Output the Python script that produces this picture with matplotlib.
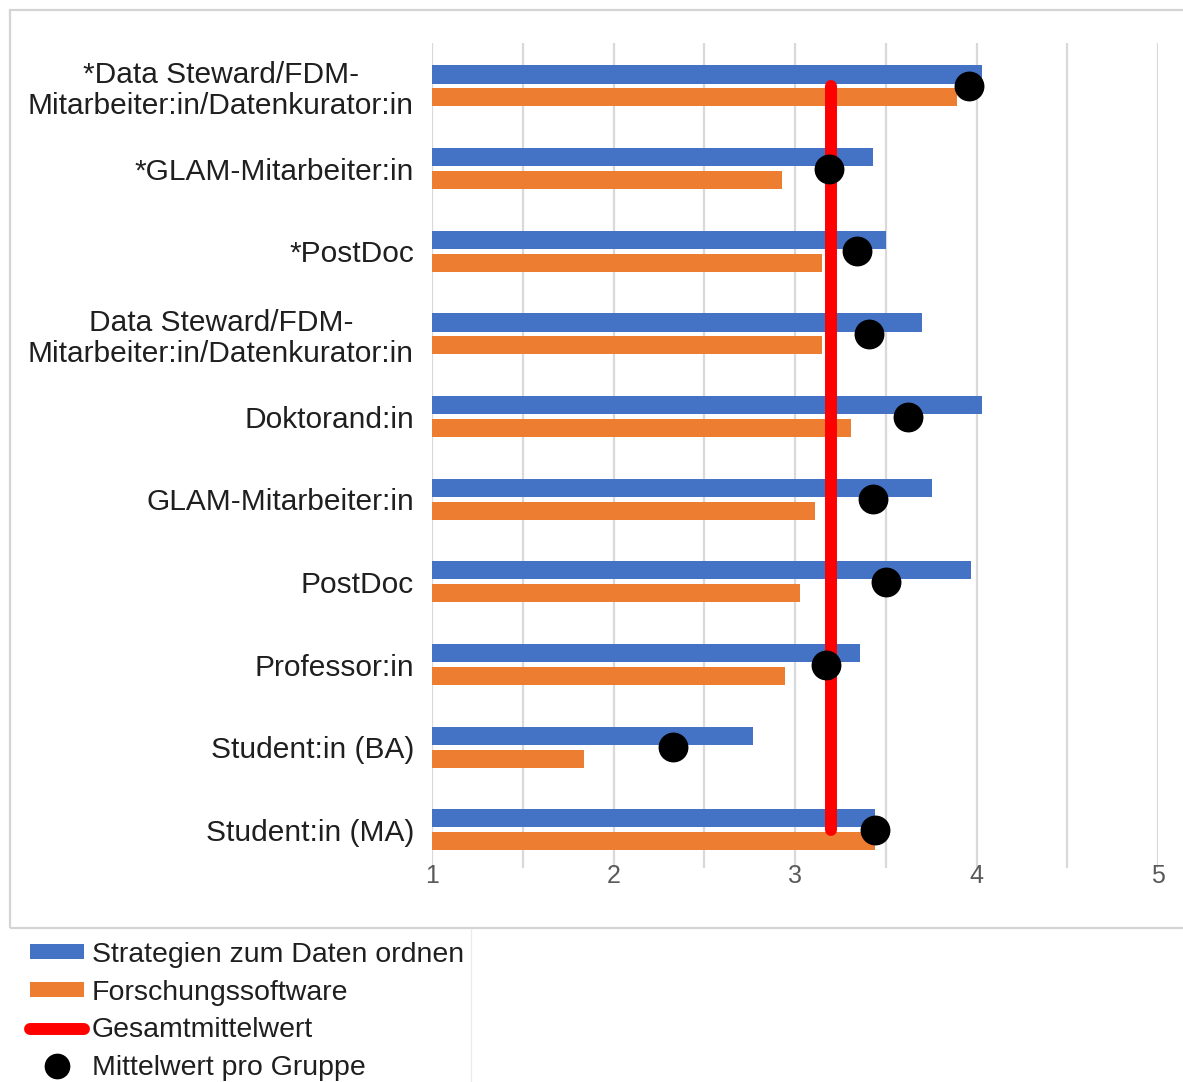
import matplotlib
matplotlib.use("Agg")
import matplotlib.pyplot as plt
from matplotlib.lines import Line2D
from matplotlib.patches import Patch, Rectangle
import numpy as np

plt.rcParams["font.family"] = ["Liberation Sans", "DejaVu Sans"]

# Groups, top to bottom
groups = [
    "*Data Steward/FDM-\nMitarbeiter:in/Datenkurator:in",
    "*GLAM-Mitarbeiter:in",
    "*PostDoc",
    "Data Steward/FDM-\nMitarbeiter:in/Datenkurator:in",
    "Doktorand:in",
    "GLAM-Mitarbeiter:in",
    "PostDoc",
    "Professor:in",
    "Student:in (BA)",
    "Student:in (MA)",
]
strategien = [4.03, 3.43, 3.50, 3.70, 4.03, 3.755, 3.97, 3.36, 2.77, 3.44]
software = [3.89, 2.93, 3.15, 3.15, 3.31, 3.11, 3.03, 2.945, 1.84, 3.44]
gruppen_mittel = [3.96, 3.19, 3.34, 3.41, 3.62, 3.43, 3.50, 3.17, 2.33, 3.44]
gesamt_mittel = 3.20

x_ticks = [1, 2, 3, 4, 5]
series_labels = ["Strategien zum Daten ordnen", "Forschungssoftware",
                 "Gesamtmittelwert", "Mittelwert pro Gruppe"]

BLUE = "#4472C4"
ORANGE = "#ED7D31"
RED = "#FF0000"
TEXT = "#1f1f1f"
GRID = "#d9d9d9"

W, H = 1183, 1082
fig = plt.figure(figsize=(W / 100, H / 100), dpi=100)
fig.patch.set_facecolor("white")

ax = fig.add_axes([432 / W, 1 - 868 / H, (1158 - 432) / W, 825 / H])

pos = np.arange(len(groups))
bar_h = 0.218
off = 0.139

ax.barh(pos - off, np.array(strategien) - 1, left=1, height=bar_h,
        color=BLUE, zorder=2)
ax.barh(pos + off, np.array(software) - 1, left=1, height=bar_h,
        color=ORANGE, zorder=2)

# overall mean as a vertical line spanning the groups
ax.plot([gesamt_mittel, gesamt_mittel], [pos[0], pos[-1]], color=RED,
        lw=8.6, solid_capstyle="round", zorder=3)

# per-group means
ax.plot(gruppen_mittel, pos, "o", color="black", markersize=20.5,
        linestyle="none", zorder=4)

# gridlines every 0.5, labels only on whole numbers
grid_vals = np.arange(1, 5.01, 0.5)
ax.set_xlim(1, 5)
ax.set_ylim(9.46, -0.52)
ax.set_xticks(grid_vals)
ax.set_xticklabels([str(int(t)) if t in x_ticks else "" for t in grid_vals])
ax.set_yticks(pos)
ax.set_yticklabels(groups, fontsize=21.5, color=TEXT, ma="center", linespacing=1.12)
ax.tick_params(axis="x", length=0, pad=-3, labelsize=18, labelcolor="#595959")
ax.tick_params(axis="y", length=0, pad=13)
ax.grid(axis="x", color=GRID, lw=1.6, zorder=0)
ax.set_axisbelow(True)
for s in ax.spines.values():
    s.set_visible(False)

# outer frame of the chart area
fig.add_artist(Rectangle((10 / W, 1 - 928 / H), (W + 20 - 10) / W, (928 - 10) / H,
                         transform=fig.transFigure, fill=False,
                         edgecolor="#d4d4d4", lw=1.6, clip_on=False))
fig.add_artist(Line2D([471 / W, 471 / W], [0, 1 - 929 / H],
                      transform=fig.transFigure, color="#ececec", lw=1))

handles = [
    Patch(facecolor=BLUE, edgecolor="none"),
    Patch(facecolor=ORANGE, edgecolor="none"),
    Line2D([], [], color=RED, lw=8.6, solid_capstyle="round"),
    Line2D([], [], marker="o", color="black", markersize=17.5, linestyle="none"),
]
fig.legend(handles, series_labels, loc="upper left",
           bbox_to_anchor=(30 / W, 1 - 942 / H), frameon=False,
           fontsize=20.5, labelcolor=TEXT, handlelength=1.9, handleheight=0.42,
           handletextpad=0.28, labelspacing=0.41, borderpad=0, borderaxespad=0)

fig.savefig("out.png", dpi=100, facecolor="white")
